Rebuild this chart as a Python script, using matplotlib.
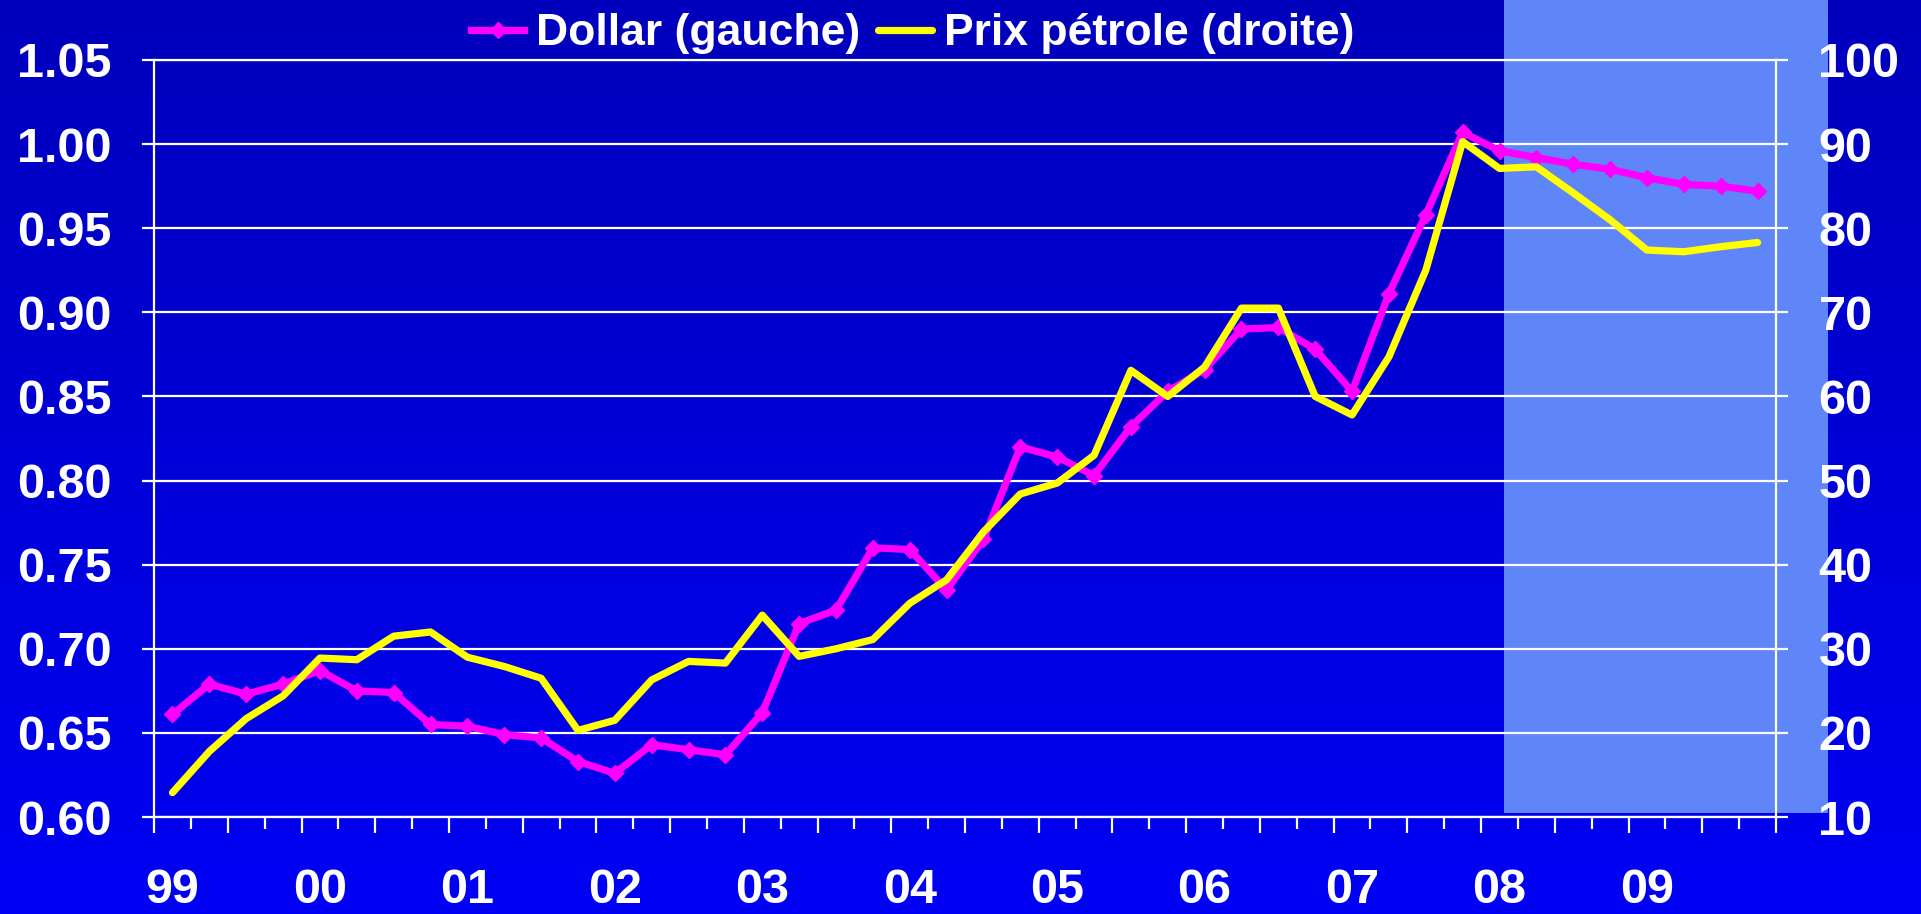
import matplotlib
matplotlib.use("Agg")
import matplotlib.pyplot as plt
import numpy as np
from matplotlib.colors import LinearSegmentedColormap
from matplotlib.patches import Rectangle

plt.rcParams['font.family'] = ['Liberation Sans', 'DejaVu Sans']
plt.rcParams['font.weight'] = 'bold'

# quarterly data, 1999Q1 .. 2009Q4
years = ['99', '00', '01', '02', '03', '04', '05', '06', '07', '08', '09']

dollar = [0.661, 0.679, 0.673, 0.679, 0.687, 0.675, 0.674, 0.655, 0.654, 0.649,
          0.647, 0.633, 0.626, 0.643, 0.640, 0.637, 0.662, 0.715, 0.723, 0.760,
          0.759, 0.735, 0.765, 0.820, 0.814, 0.803, 0.832, 0.853, 0.866, 0.890,
          0.891, 0.878, 0.853, 0.911, 0.958, 1.007, 0.996, 0.992, 0.988, 0.985,
          0.980, 0.976, 0.975, 0.972]

oil = [12.9, 17.8, 21.7, 24.4, 28.9, 28.7, 31.5, 32.0, 29.0, 27.9,
       26.5, 20.3, 21.5, 26.3, 28.5, 28.3, 34.0, 29.1, 30.0, 31.1,
       35.4, 38.2, 43.9, 48.4, 49.7, 53.0, 63.1, 60.0, 63.5, 70.5,
       70.5, 60.0, 57.8, 64.7, 75.0, 90.3, 87.1, 87.3, 84.2, 81.0,
       77.4, 77.2, 77.8, 78.3]

dollar_ticks = [0.60, 0.65, 0.70, 0.75, 0.80, 0.85, 0.90, 0.95, 1.00, 1.05]
oil_ticks = [10, 20, 30, 40, 50, 60, 70, 80, 90, 100]

fig = plt.figure(figsize=(19.21, 9.14), dpi=100)

# background: vertical blue gradient + forecast shading
bg = fig.add_axes([0, 0, 1, 1], zorder=-10)
grad = np.linspace(0, 1, 256).reshape(-1, 1)
cmap = LinearSegmentedColormap.from_list('bg', ['#0000BC', '#0000F5'])
bg.imshow(grad, aspect='auto', cmap=cmap, extent=[0, 1, 0, 1], origin='upper')
bg.add_patch(Rectangle((0.7829, 0.1105), 0.9516 - 0.7829, 1 - 0.1105,
                       color='#5E86F9', lw=0))
bg.set_xlim(0, 1)
bg.set_ylim(0, 1)
bg.axis('off')

ax = fig.add_axes([0.0802, 0.1061, 0.8443, 0.8283])
ax.patch.set_visible(False)
x = np.arange(len(dollar))
l1, = ax.plot(x, dollar, color='#FF00FF', lw=5.2, marker='D', ms=8.5, zorder=3)
ax.set_xlim(-0.5, len(dollar) - 0.5)
ax.set_ylim(0.60, 1.05)
ax.set_yticks(dollar_ticks)
ax.set_yticklabels([f'{v:.2f}' for v in dollar_ticks])
ax.grid(axis='y', color='white', lw=1.6)
ax.set_axisbelow(True)

ax.set_xticks(np.arange(-0.5, len(dollar) + 0.5, 2))
ax.set_xticks(np.arange(0.5, len(dollar), 2), minor=True)
ax.tick_params(axis='x', which='major', length=11.5, width=1.6, color='white',
               labelbottom=False)
ax.tick_params(axis='x', which='minor', length=8.6, width=1.6, color='white')
ax.tick_params(axis='y', length=8.6, width=1.6, color='white',
               labelcolor='white', labelsize=35, pad=22)
for s in ['left', 'bottom', 'top']:
    ax.spines[s].set_color('white')
    ax.spines[s].set_linewidth(1.6)
ax.spines['right'].set_visible(False)

sec = ax.secondary_xaxis('bottom')
sec.set_xticks(x[::4], years)
sec.tick_params(length=0, pad=37, labelsize=35, labelcolor='white')
sec.spines['bottom'].set_visible(False)

ax2 = ax.twinx()
l2, = ax2.plot(x, oil, color='#FFFF00', lw=5.2, solid_capstyle='round')
ax2.set_ylim(10, 100)
ax2.set_yticks(oil_ticks)
ax2.tick_params(axis='y', length=8.6, width=1.6, color='white',
                labelcolor='white', labelsize=35, pad=22)
for s in ['left', 'bottom', 'top']:
    ax2.spines[s].set_visible(False)
ax2.spines['right'].set_color('white')
ax2.spines['right'].set_linewidth(1.6)

fig.legend(handles=[l1, l2], labels=['Dollar (gauche)', 'Prix pétrole (droite)'],
           loc='center', bbox_to_anchor=(0.475, 0.963), ncol=2, frameon=False,
           fontsize=32, handlelength=1.2, handletextpad=0.27, columnspacing=0.4,
           labelcolor='white', borderpad=0)

fig.savefig('out.png', dpi=100)
